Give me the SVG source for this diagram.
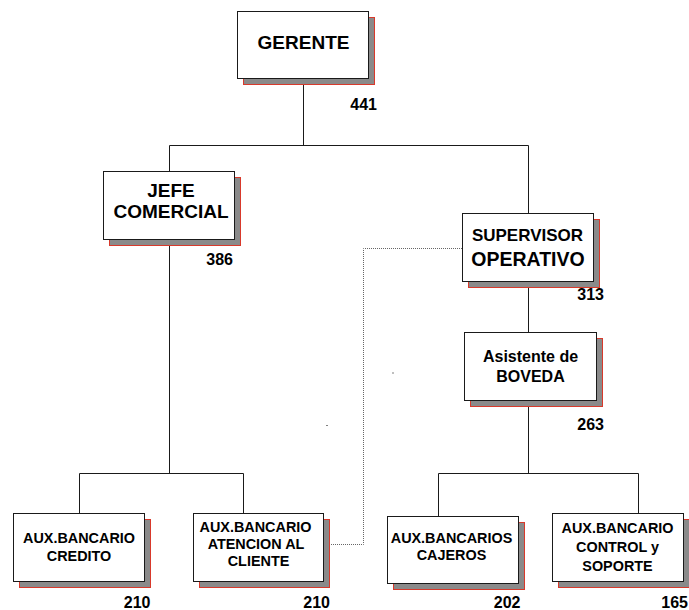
<svg xmlns="http://www.w3.org/2000/svg" width="689" height="610" viewBox="0 0 689 610">
<style>
.shadow{fill:#8a8a8a;stroke:#d8392b;stroke-width:1}
.box{fill:#ffffff;stroke:#1a1a1a;stroke-width:1}
.t{font-family:"Liberation Sans",Arial,sans-serif;font-weight:bold;fill:#000;text-anchor:middle}
.num{font-family:"Liberation Sans",Arial,sans-serif;font-weight:bold;fill:#000;text-anchor:end;font-size:16px}
.line{fill:none;stroke:#1a1a1a;stroke-width:1}
.dot{fill:none;stroke:#666;stroke-width:1;stroke-dasharray:1 1}
</style>
<rect width="689" height="610" fill="#ffffff"/>
<g id="connectors">
<path class="line" d="M303.5 79V145.5M169.5 145.5H528.5M169.5 145.5V171M528.5 145.5V213"/>
<path class="line" d="M169.5 246V473.5M79.5 473.5H243.5M79.5 473.5V513M243.5 473.5V513"/>
<path class="line" d="M528.5 288V332M528.5 407V473.5M438.5 473.5H638.5M438.5 473.5V516M638.5 473.5V513"/>
<path class="dot" d="M462 248.5H363.5V544.5H324"/>
<rect x="392.5" y="372.5" width="1" height="1" fill="#000"/>
<rect x="326.5" y="425" width="1" height="1" fill="#000"/>
</g>
<g id="gerente">
<rect class="shadow" x="243.5" y="17.5" width="131" height="67"/>
<rect class="box" x="237.5" y="11.5" width="131" height="67"/>
<text class="t" x="303.5" y="49" font-size="19">GERENTE</text>
<text class="num" x="377" y="110">441</text>
</g>
<g id="jefe-comercial">
<rect class="shadow" x="109.5" y="177.5" width="131" height="68"/>
<rect class="box" x="103.5" y="171.5" width="131" height="68"/>
<text class="t" x="171" y="197" font-size="19">JEFE</text>
<text class="t" x="171" y="218" font-size="19">COMERCIAL</text>
<text class="num" x="233" y="265">386</text>
</g>
<g id="supervisor-operativo">
<rect class="shadow" x="468.5" y="219.5" width="131" height="68"/>
<rect class="box" x="462.5" y="213.5" width="131" height="68"/>
<text class="t" x="527.5" y="241" font-size="17">SUPERVISOR</text>
<text class="t" x="528" y="265.5" font-size="19.5">OPERATIVO</text>
<text class="num" x="604" y="300">313</text>
</g>
<g id="asistente-boveda">
<rect class="shadow" x="470.5" y="338.5" width="132" height="68"/>
<rect class="box" x="464.5" y="332.5" width="132" height="68"/>
<text class="t" x="530.5" y="361.5" font-size="16">Asistente de</text>
<text class="t" x="530.5" y="381.5" font-size="16">BOVEDA</text>
<text class="num" x="604" y="430">263</text>
</g>
<g id="aux-credito">
<rect class="shadow" x="19.5" y="519.5" width="131" height="68"/>
<rect class="box" x="13.5" y="513.5" width="131" height="68"/>
<text class="t" x="79" y="542.5" font-size="14.4">AUX.BANCARIO</text>
<text class="t" x="79" y="560.5" font-size="14.4">CREDITO</text>
<text class="num" x="150.5" y="608">210</text>
</g>
<g id="aux-atencion">
<rect class="shadow" x="199.5" y="519.5" width="130" height="68"/>
<rect class="box" x="193.5" y="513.5" width="130" height="68"/>
<text class="t" x="255.5" y="532" font-size="14.4">AUX.BANCARIO</text>
<text class="t" x="256" y="548.5" font-size="14.4">ATENCION AL</text>
<text class="t" x="258.5" y="566" font-size="14.4">CLIENTE</text>
<text class="num" x="330" y="608">210</text>
</g>
<g id="aux-cajeros">
<rect class="shadow" x="393.5" y="522.5" width="131" height="67"/>
<rect class="box" x="387.5" y="516.5" width="131" height="67"/>
<text class="t" x="451.5" y="543" font-size="14.4">AUX.BANCARIOS</text>
<text class="t" x="451.5" y="559.5" font-size="14.4">CAJEROS</text>
<text class="num" x="520.5" y="608">202</text>
</g>
<g id="aux-control">
<rect class="shadow" x="558.5" y="519.5" width="131" height="68"/>
<rect class="box" x="552.5" y="513.5" width="131" height="68"/>
<text class="t" x="617.5" y="532.5" font-size="14.4">AUX.BANCARIO</text>
<text class="t" x="617.5" y="551.5" font-size="14.4">CONTROL y</text>
<text class="t" x="617.5" y="571" font-size="14.4">SOPORTE</text>
<text class="num" x="688" y="608">165</text>
</g>
</svg>
